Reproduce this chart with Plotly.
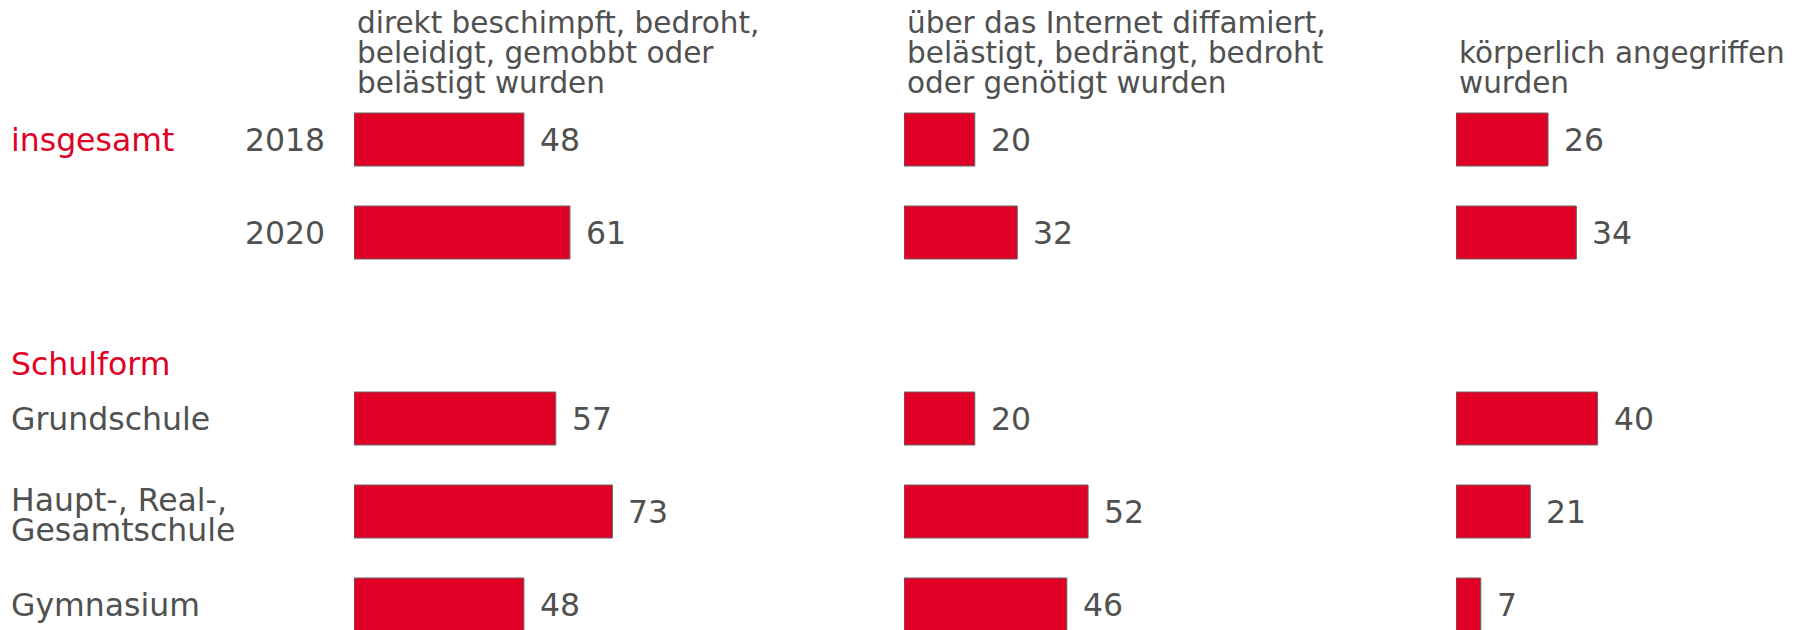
import plotly.graph_objects as go

# ---------------- data ----------------
rows = ["2018", "2020", " ", "Grundschule", "Haupt-, Real-,<br>Gesamtschule", "Gymnasium"]
direkt = [48, 61, None, 57, 73, 48]
internet = [20, 32, None, 20, 52, 46]
koerperlich = [26, 34, None, 40, 21, 7]
headers = [
    ["direkt beschimpft, bedroht,", "beleidigt, gemobbt oder", "belästigt wurden"],
    ["über das Internet diffamiert,", "belästigt, bedrängt, bedroht", "oder genötigt wurden"],
    ["körperlich angegriffen", "wurden"],
]
group_labels = ["insgesamt", "Schulform"]

# ---------------- style ----------------
W, H = 1795, 630
RED = "#E10025"
GREY = "#505050"
FONT = "DejaVu Sans"
PX_PER_UNIT = 3.54
col_left = [354, 904, 1456]
col_right = [854, 1404, 1795]
HEAD_SIZE = 29.5
LINE_GAP = 29.8
LABEL_SIZE = 31.5

def px(x):
    return x / W

def py(y):
    return 1 - y / H

def tight(lines, size):
    # glyphs drawn at `size`, line pitch governed by the smaller base font
    return "<br>".join(f'<span style="font-size:{size}px">{t}</span>' for t in lines)

fig = go.Figure()
series = [direkt, internet, koerperlich]
axes = ["x", "x2", "x3"]
for vals, ax in zip(series, axes):
    fig.add_trace(go.Bar(
        x=vals, y=rows, orientation="h", xaxis=ax, yaxis="y",
        marker=dict(color=RED, line=dict(color="#666666", width=1)),
        width=0.57, hoverinfo="skip", showlegend=False,
    ))

annotations = []
# value labels (y given as category index on the category axis)
for vals, ax in zip(series, axes):
    for idx, v in enumerate(vals):
        if v is None:
            continue
        annotations.append(dict(
            x=v, y=idx, xref=ax, yref="y", text=str(v), showarrow=False,
            xanchor="left", yanchor="middle", xshift=14,
            font=dict(family=FONT, size=LABEL_SIZE, color=GREY),
        ))

# header blocks (bottom lines aligned)
for c, lines in enumerate(headers):
    annotations.append(dict(
        x=px(col_left[c] + 1), y=py(102.5), xref="paper", yref="paper",
        text=tight(lines, HEAD_SIZE), showarrow=False, xanchor="left",
        yanchor="bottom", align="left",
        font=dict(family=FONT, size=LINE_GAP / 1.3, color=GREY),
    ))

# row labels
for idx, r in enumerate(rows):
    if r.strip() == "":
        continue
    if idx < 2:
        annotations.append(dict(
            x=px(327), y=idx, xref="paper", yref="y", text=r, showarrow=False,
            xanchor="right", yanchor="middle",
            font=dict(family=FONT, size=LABEL_SIZE, color=GREY),
        ))
    else:
        parts = r.split("<br>")
        if len(parts) == 1:
            annotations.append(dict(
                x=px(9), y=idx, xref="paper", yref="y", text=r, showarrow=False,
                xanchor="left", yanchor="middle",
                font=dict(family=FONT, size=LABEL_SIZE, color=GREY),
            ))
        else:
            annotations.append(dict(
                x=px(9), y=idx, xref="paper", yref="y", text=tight(parts, LABEL_SIZE),
                showarrow=False, xanchor="left", yanchor="middle", align="left",
                yshift=-3,
                font=dict(family=FONT, size=30 / 1.3, color=GREY),
            ))

# group labels (red)
annotations.append(dict(
    x=px(9), y=0, xref="paper", yref="y", text=group_labels[0], showarrow=False,
    xanchor="left", yanchor="middle", font=dict(family=FONT, size=LABEL_SIZE, color=RED),
))
annotations.append(dict(
    x=px(9), y=py(364), xref="paper", yref="paper", text=group_labels[1], showarrow=False,
    xanchor="left", yanchor="middle", font=dict(family=FONT, size=LABEL_SIZE, color=RED),
))

layout = dict(
    width=W, height=H,
    margin=dict(l=0, r=0, t=0, b=0),
    paper_bgcolor="white", plot_bgcolor="white",
    yaxis=dict(domain=[0, 1], range=[(H - 139.5) / 93, -139.5 / 93],
               type="category", categoryorder="array", categoryarray=rows,
               showticklabels=False, showgrid=False, zeroline=False, showline=False,
               ticks=""),
    annotations=annotations,
)
for c, ax in enumerate(axes):
    name = "xaxis" if ax == "x" else "xaxis" + ax[1:]
    d0, d1 = col_left[c], col_right[c]
    layout[name] = dict(
        domain=[px(d0), px(d1)], range=[0, (d1 - d0) / PX_PER_UNIT],
        anchor="y", showticklabels=False, showgrid=False, zeroline=False,
        showline=False, ticks="",
    )

fig.update_layout(**layout)
fig.write_html("out.html", config=dict(displayModeBar=False),
               post_script="document.body.style.margin='0';document.body.style.overflow='hidden';")
